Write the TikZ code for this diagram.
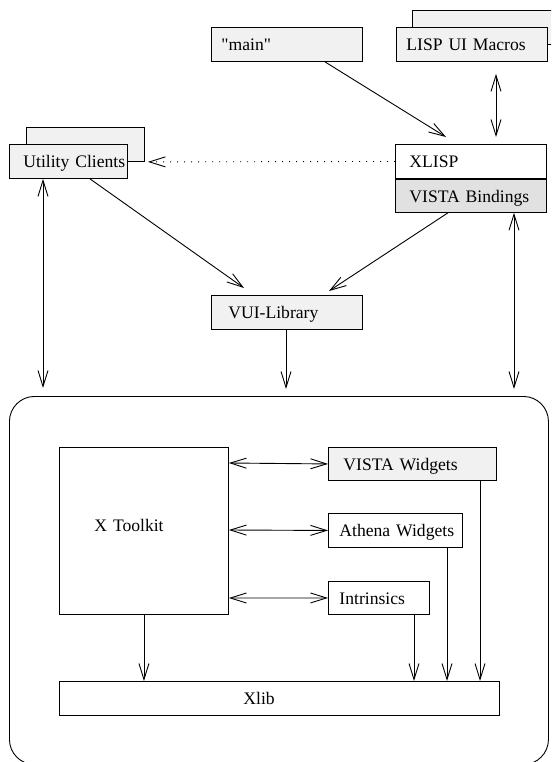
\documentclass[tikz,border=0pt]{standalone}
\usepackage{fontspec}
\setmainfont{Liberation Serif}[Ligatures=TeXOff]
\usetikzlibrary{arrows.meta}
\definecolor{lg}{HTML}{F1F1F1}
\definecolor{mg}{HTML}{E1E1E1}
\begin{document}
\begin{tikzpicture}[x=1pt,y=-1pt,
  font=\fontsize{17.6pt}{20pt}\selectfont,
  line width=0.9pt,
  >={Straight Barb[length=16pt,width=10pt]},
  box/.style={draw, anchor=north west, inner ysep=0pt, text height=13pt, text depth=0pt, align=left},
  plain/.style={draw, anchor=north west, inner sep=0pt}]
\useasboundingbox (0,0) rectangle (551,762);
\clip (0,0) rectangle (551,762);
% upper boxes
\node[plain, fill=lg, minimum width=118pt, minimum height=34pt] (uback) at (26,127) {};
\node[box, fill=lg, minimum height=34pt, text width=90pt, inner xsep=14pt] (util) at (9,144) {\mbox{Utility Clients}};
\node[box, fill=lg, minimum height=34pt, text width=131pt, inner xsep=10pt] (main) at (211,27) {\mbox{"main"}};
\node[plain, fill=lg, minimum width=152pt, minimum height=34pt] (lback) at (412,10) {};
\node[box, fill=lg, minimum height=34pt, text width=131pt, inner xsep=10pt] (lisp) at (396,27) {\mbox{LISP UI Macros}};
\node[box, fill=white, minimum height=34pt, text width=123pt, inner xsep=14pt] (xlisp) at (395,144) {\mbox{XLISP}};
\node[box, fill=mg, minimum height=33pt, text width=123pt, inner xsep=14pt] (vb) at (xlisp.south west) {\mbox{VISTA Bindings}};
\node[box, fill=lg, minimum height=34pt, text width=117pt, inner xsep=17pt] (vui) at (211,295) {\mbox{VUI-Library}};
% frame and inner boxes
\node[plain, rounded corners=25pt, minimum width=539pt, minimum height=368pt] (frame) at (9,396) {};
\node[box, minimum height=167pt, text width=99pt, inner xsep=35pt, text height=1pt] (xt) at (59,447) {\mbox{X Toolkit}};
\node[box, fill=lg, minimum height=33pt, text width=138pt, inner xsep=15pt] (vw) at (328,447) {\mbox{VISTA Widgets}};
\node[box, minimum height=34pt, text width=112pt, inner xsep=11pt] (aw) at (328,513) {\mbox{Athena Widgets}};
\node[box, minimum height=33pt, text width=79pt, inner xsep=11pt] (intr) at (328,581) {\mbox{Intrinsics}};
\node[box, minimum height=34pt, text width=72pt, inner xsep=184pt] (xlib) at (59,681) {\mbox{Xlib}};
% connectors, upper part
\draw[->] ([xshift=114pt]main.south west) -- ([xshift=51pt,yshift=7pt]xlisp.north west);
\draw[<->] ([xshift=100pt,yshift=-12pt]lisp.south west) -- ([xshift=101pt,yshift=7pt]xlisp.north west);
\draw[->, dash pattern=on 1pt off 6pt] (xlisp.west) -- ([xshift=3pt]uback.south east);
\draw[<->] ([xshift=34pt]util.south west) -- ([xshift=34pt,yshift=8pt]frame.north west);
\draw[->] ([xshift=81pt]util.south west) -- ([xshift=33pt,yshift=7pt]vui.north west);
\draw[->] ([xshift=53pt]vb.south west) -- ([xshift=118pt,yshift=4pt]vui.north west);
\draw[<->] ([xshift=119pt]vb.south west) -- ([xshift=505pt,yshift=7pt]frame.north west);
\draw[->] ([xshift=75pt]vui.south west) -- ([xshift=277pt,yshift=7pt]frame.north west);
% connectors, inner part
\draw[<->] ([yshift=-16pt]xt.north east) -- (vw.west);
\draw[<->] ([yshift=-83pt]xt.north east) -- (aw.west);
\draw[<->] ([yshift=-151pt]xt.north east) -- (intr.west);
\coordinate (ia) at ([xshift=86pt]intr.south west);
\coordinate (aa) at ([xshift=119pt]aw.south west);
\coordinate (va) at ([xshift=152pt]vw.south west);
\draw[->] (xt.south) -- (xt.south |- xlib.north);
\draw[->] (ia) -- (ia |- xlib.north);
\draw[->] (aa) -- (aa |- xlib.north);
\draw[->] (va) -- (va |- xlib.north);
\end{tikzpicture}
\end{document}
